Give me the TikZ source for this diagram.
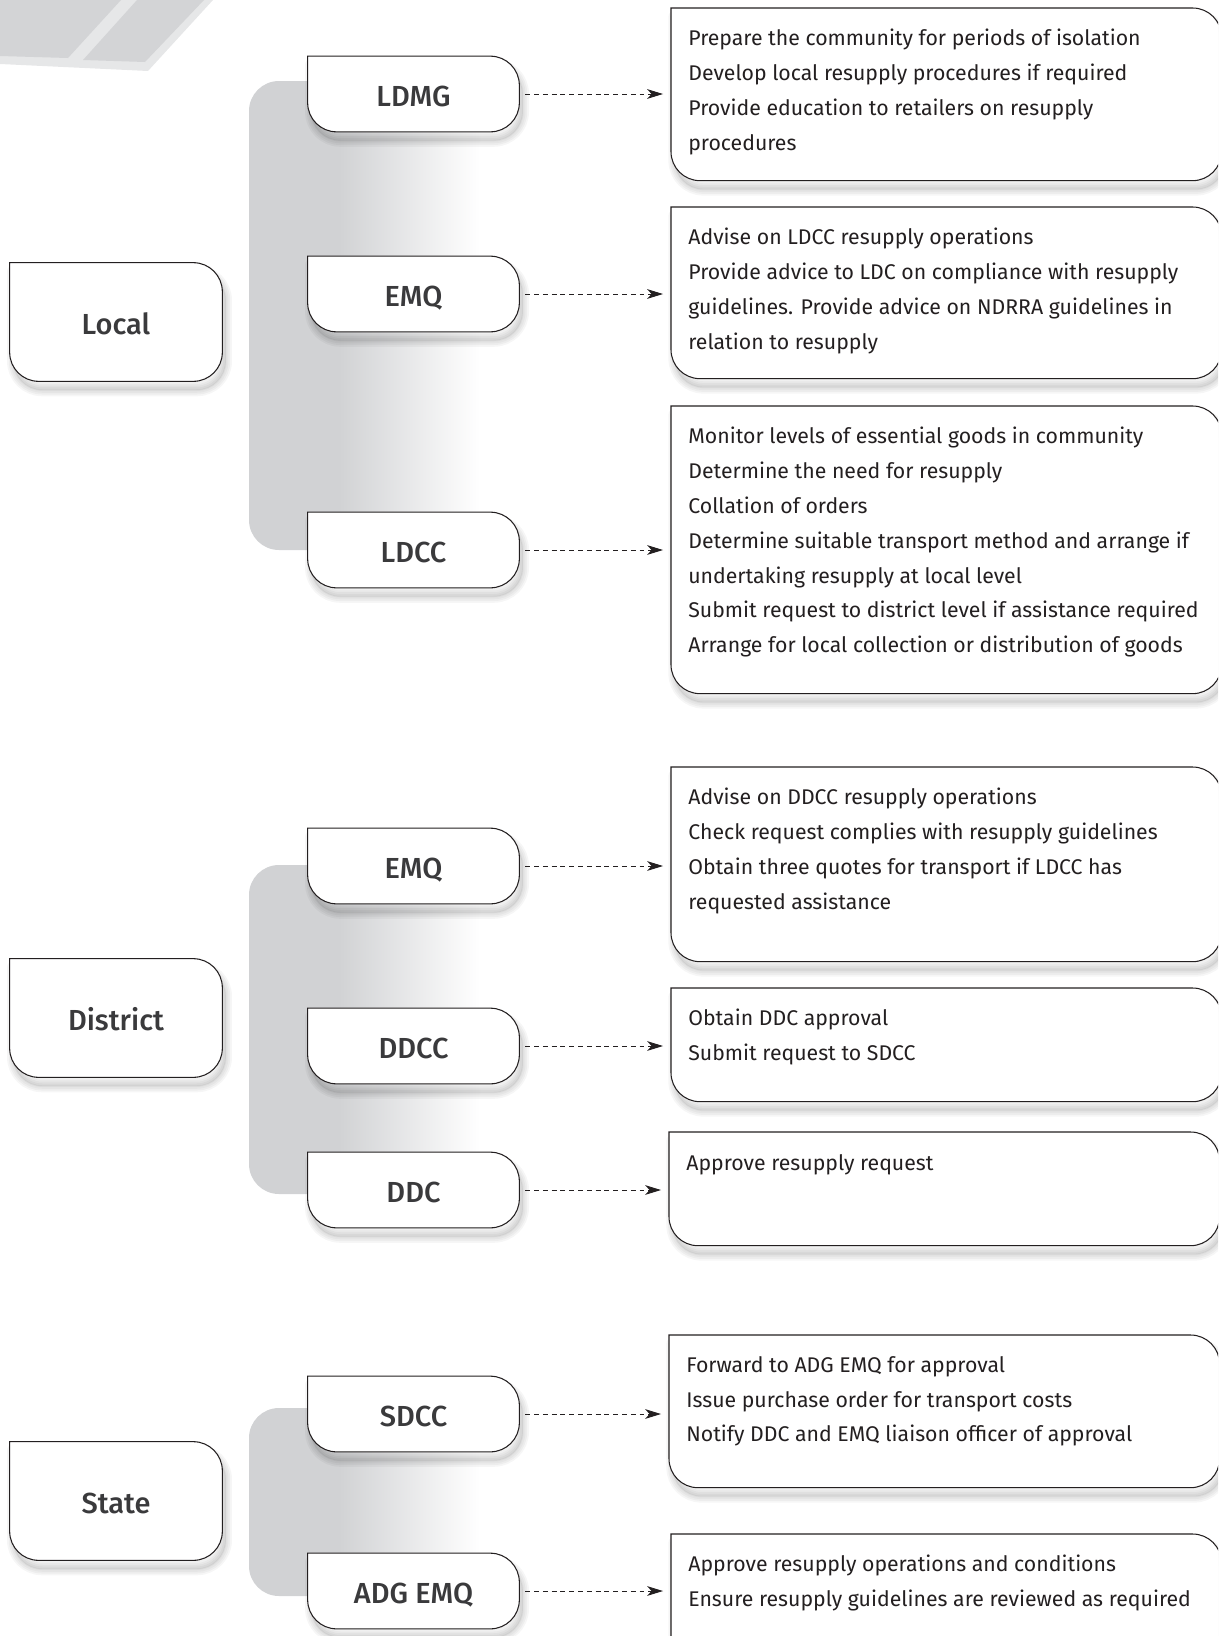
\documentclass[tikz,border=0pt]{standalone}
\usepackage{fontspec}
\setmainfont{Fira Sans}
\IfFontExistsTF{Fira Sans Medium}{\newfontfamily\tabfont{Fira Sans Medium}}{\newfontfamily\tabfont{Fira Sans}}
\usetikzlibrary{positioning,arrows.meta}
\definecolor{inka}{HTML}{231F20}
\definecolor{inkb}{HTML}{3A3A3C}
\definecolor{bargray}{HTML}{D1D2D4}
\definecolor{tiledark}{HTML}{D3D4D6}
\definecolor{tilelight}{HTML}{E6E7E8}
\pgfdeclarelayer{bars}
\pgfdeclarelayer{frames}
\pgfsetlayers{bars,frames,main}
\newcommand\cornr{0.58cm}
% outline: only the top left corner is square
\newcommand\tabpath[1]{(#1.north west) -- ([xshift=-\cornr]#1.north east)
    arc[start angle=90,end angle=0,radius=\cornr] -- ([yshift=\cornr]#1.south east)
    arc[start angle=0,end angle=-90,radius=\cornr] -- ([xshift=\cornr]#1.south west)
    arc[start angle=270,end angle=180,radius=\cornr] -- cycle}
\newcommand\tabframe[1]{%
  \begin{scope}[transform canvas={xshift=2pt,yshift=-5pt}]
    \fill[black,opacity=0.06] \tabpath{#1};
    \foreach \w in {1,3,5,7}
      \draw[black,opacity=0.035,line width=\w pt,line join=round] \tabpath{#1};
  \end{scope}
  \draw[frame] \tabpath{#1};}
\tikzset{
  levelbox/.style={minimum width=4.24cm,minimum height=2.36cm,inner sep=0pt,text=inkb,
    text height=14pt,text depth=0pt,font=\tabfont\fontsize{16.5}{18}\selectfont},
  rolebox/.style={levelbox,minimum width=4.22cm,minimum height=1.5cm},
  taskframe/.style={anchor=north west,minimum width=11cm,inner sep=0pt},
  tasktext/.style={align=left,inner sep=0pt,text=inka,font=\fontsize{12.1}{19.8}\selectfont},
  frame/.style={draw=inka,line width=0.6pt,fill=white},
  link/.style={draw=inka,line width=0.5pt,dash pattern=on 2.8pt off 2.2pt,
    -{Stealth[length=9pt,width=5.5pt,inset=2.5pt]},shorten <=0.12cm,shorten >=0.16cm}
}
\begin{document}
\begin{tikzpicture}[x=0.02cm,y=-0.02cm]
  \useasboundingbox (0,0) rectangle (1218,1636);
  % corner tiles
  \fill[tilelight] (0,0) -- (213,0) -- (148,71) -- (0,64) -- cycle;
  \fill[tiledark] (0,0) -- (121,0) -- (68,58) -- (0,56) -- cycle;
  \fill[tiledark] (137,0) -- (204,0) -- (145,62) -- (83,60) -- cycle;

  % levels
  \node[levelbox] (local) at (116,322) {Local};
  \node[levelbox] (district) at (116,1018) {District};
  \node[levelbox] (state) at (116,1501) {State};

  % roles
  \node[rolebox] (ldmg) at (413.5,94) {LDMG};
  \node[rolebox] (emql) at (413.5,294) {EMQ};
  \node[rolebox] (ldcc) at (413.5,550) {LDCC};
  \node[rolebox] (emqd) at (413.5,866) {EMQ};
  \node[rolebox] (ddcc) at (413.5,1046) {DDCC};
  \node[rolebox] (ddc) at (413.5,1190) {DDC};
  \node[rolebox] (sdcc) at (413.5,1414) {SDCC};
  \node[rolebox] (adgemq) at (413.5,1591) {ADG EMQ};

  % task boxes
  \node[taskframe,minimum height=3.44cm] (tldmg) at (671,8) {};
  \node[taskframe,minimum height=3.42cm] (temql) at (671,207) {};
  \node[taskframe,minimum height=5.74cm] (tldcc) at (671,406) {};
  \node[taskframe,minimum height=3.88cm] (temqd) at (671,767) {};
  \node[taskframe,minimum height=2.26cm] (tddcc) at (671,988) {};
  \node[taskframe,minimum height=2.26cm] (tddc) at (669,1132) {};
  \node[taskframe,minimum height=3.04cm] (tsdcc) at (669,1335) {};
  \node[taskframe,minimum height=2.92cm] (tadgemq) at (671,1534) {};

  \node[tasktext,below right=0.42cm and 0.34cm of tldmg.north west] (xldmg)
    {Prepare the community for periods of isolation\\Develop local resupply procedures if required\\
     Provide education to retailers on resupply\\procedures};
  \node[tasktext,below right=0.42cm and 0.34cm of temql.north west] (xemql)
    {Advise on LDCC resupply operations\\Provide advice to LDC on compliance with resupply\\
     guidelines. Provide advice on NDRRA guidelines in\\relation to resupply};
  \node[tasktext,below right=0.42cm and 0.34cm of tldcc.north west] (xldcc)
    {Monitor levels of essential goods in community\\Determine the need for resupply\\
     Collation of orders\\Determine suitable transport method and arrange if\\
     undertaking resupply at local level\\Submit request to district level if assistance required\\
     Arrange for local collection or distribution of goods};
  \node[tasktext,below right=0.42cm and 0.34cm of temqd.north west] (xemqd)
    {Advise on DDCC resupply operations\\Check request complies with resupply guidelines\\
     Obtain three quotes for transport if LDCC has\\requested assistance};
  \node[tasktext,below right=0.42cm and 0.34cm of tddcc.north west] (xddcc)
    {Obtain DDC approval\\Submit request to SDCC};
  \node[tasktext,below right=0.45cm and 0.34cm of tddc.north west] (xddc)
    {Approve resupply request};
  \node[tasktext,below right=0.42cm and 0.34cm of tsdcc.north west] (xsdcc)
    {Forward to ADG EMQ for approval\\Issue purchase order for transport costs\\
     Notify DDC and EMQ liaison officer of approval};
  \node[tasktext,below right=0.42cm and 0.34cm of tadgemq.north west] (xadgemq)
    {Approve resupply operations and conditions\\Ensure resupply guidelines are reviewed as required};

  % grey bars behind the roles
  \begin{pgfonlayer}{bars}
    \foreach \ytop/\ybot in {81/550,865/1194,1408/1596}{
      \fill[bargray,rounded corners=0.6cm] (355,\ytop) -- (249,\ytop) -- (249,\ybot) -- (355,\ybot);
      \shade[left color=bargray,right color=white] (339,\ytop) rectangle (480,\ybot);
    }
  \end{pgfonlayer}

  % outlines
  \begin{pgfonlayer}{frames}
    \begin{scope}
      \clip (0,0) rectangle (1218,1636);
      \foreach \n in {local,district,state,ldmg,emql,ldcc,emqd,ddcc,ddc,sdcc,adgemq,
          tldmg,temql,tldcc,temqd,tddcc,tddc,tsdcc,tadgemq}
        \tabframe{\n};
    \end{scope}
  \end{pgfonlayer}

  % links
  \foreach \a/\b in {ldmg/tldmg,emql/temql,ldcc/tldcc,emqd/temqd,ddcc/tddcc,ddc/tddc,
      sdcc/tsdcc,adgemq/tadgemq}
    \draw[link] (\a) -- (\a -| \b.west);
\end{tikzpicture}
\end{document}
